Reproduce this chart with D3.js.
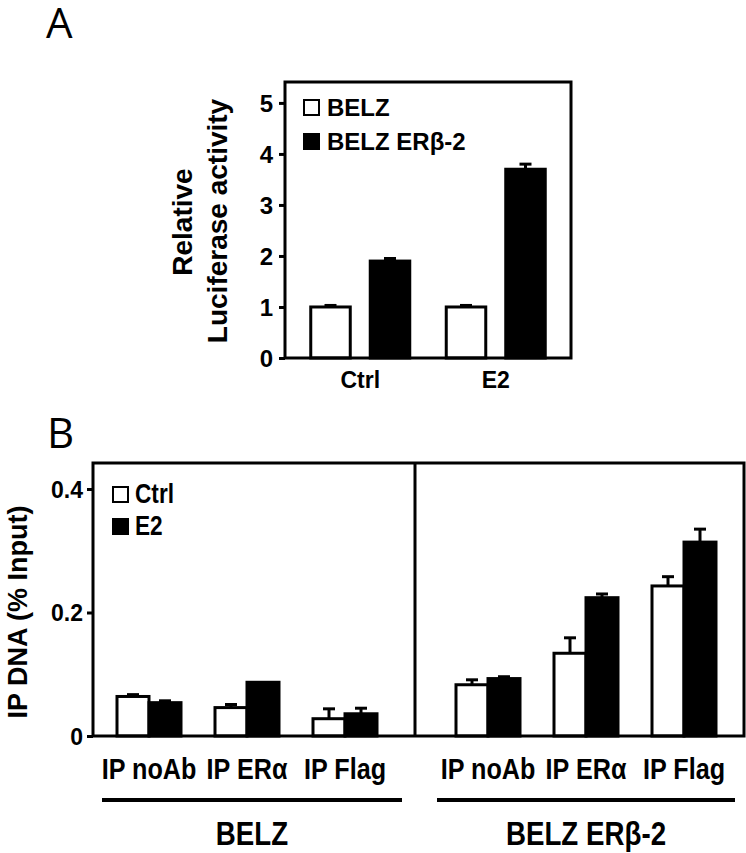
<!DOCTYPE html>
<html>
<head>
<meta charset="utf-8">
<script src="https://cdn.jsdelivr.net/npm/d3@7"></script>
<style>
  body { margin: 0; background: #fff; }
  svg { display: block; }
  text { font-family: "Liberation Sans", Arial, sans-serif; font-weight: bold; fill: #000; }
</style>
</head>
<body>
<svg id="chart" width="746" height="853"></svg>
<script>
// ---------- Panel A data ----------
const aGroups = ["Ctrl", "E2"];
const aSeries = ["BELZ", "BELZ ERβ-2"];
const aValues = [[1.0, 1.9], [1.0, 3.7]];      // [group][series]
const aErrors = [[0.03, 0.05], [0.03, 0.1]];
const aTicks = [0, 1, 2, 3, 4, 5];

// ---------- Panel B data ----------
const bSections = ["BELZ", "BELZ ERβ-2"];
const bAntibodies = ["IP noAb", "IP ERα", "IP Flag"];
const bSeries = ["Ctrl", "E2"];
const bValuesCtrl = [[0.064, 0.046, 0.028], [0.083, 0.134, 0.243]];
const bErrorsCtrl = [[0.003, 0.005, 0.016], [0.008, 0.025, 0.015]];
const bValuesE2   = [[0.054, 0.087, 0.036], [0.093, 0.224, 0.314]];
const bErrorsE2   = [[0.003, 0.0,   0.009], [0.003, 0.006, 0.021]];
const bTicks = [0, 0.2, 0.4];
const bTickLabels = ["0", "0.2", "0.4"];

const svg = d3.select("#chart");
const colors = ["#fff", "#000"];
const SW = 3;

function errorBar(g, x, yTop, yErr, cap) {
  g.append("line").attr("x1", x).attr("x2", x).attr("y1", yTop).attr("y2", yErr)
    .attr("stroke", "#000").attr("stroke-width", SW);
  g.append("line").attr("x1", x - cap / 2).attr("x2", x + cap / 2).attr("y1", yErr).attr("y2", yErr)
    .attr("stroke", "#000").attr("stroke-width", SW);
}
// condensed text helper
function ctext(g, x, y, str, size, anchor, sx) {
  return g.append("text").attr("transform", `translate(${x},${y}) scale(${sx || 0.84},1)`)
    .attr("text-anchor", anchor || "start").style("font-size", size + "px").text(str);
}

// ================= Panel A =================
{
  const L = 285, R = 571, T = 82, B = 358;
  const g = svg.append("g");
  const y = d3.scaleLinear().domain([0, 5.41]).range([B, T]);
  const x0 = d3.scaleBand().domain(aGroups).range([L + 7.5, R - 7.5]);
  const x1 = d3.scaleBand().domain(aSeries).range([0, 99]).paddingInner(0.336);
  const off = (x0.bandwidth() - 99) / 2;

  g.append("text").attr("x", 46).attr("y", 38).style("font-weight", "normal")
    .style("font-family", "'Open Sans', 'DejaVu Sans', sans-serif").style("font-size", "42px").text("A");

  aGroups.forEach((grp, gi) => {
    aSeries.forEach((s, si) => {
      const bx = x0(grp) + off + x1(s);
      const v = aValues[gi][si];
      errorBar(g, bx + x1.bandwidth() / 2, y(v), y(v + aErrors[gi][si]), 12);
      g.append("rect").attr("x", bx).attr("y", y(v)).attr("width", x1.bandwidth())
        .attr("height", y(0) - y(v)).attr("fill", colors[si]).attr("stroke", "#000").attr("stroke-width", SW);
    });
    g.append("text").attr("x", x0(grp) + x0.bandwidth() / 2).attr("y", 388)
      .attr("text-anchor", "middle").style("font-size", "23px").text(grp);
  });

  g.append("rect").attr("x", L).attr("y", T).attr("width", R - L).attr("height", B - T)
    .attr("fill", "none").attr("stroke", "#000").attr("stroke-width", SW);

  const ax = g.append("g").attr("transform", `translate(${L},0)`)
    .call(d3.axisLeft(y).tickValues(aTicks).tickSize(6).tickPadding(6).tickFormat(d3.format("d")));
  ax.select(".domain").remove();
  ax.selectAll(".tick line").attr("stroke", "#000").attr("stroke-width", SW);
  ax.selectAll(".tick text").style("font-size", "24px").style("font-family", "'Liberation Sans', Arial, sans-serif")
    .style("font-weight", "bold").attr("dy", "0.36em");

  g.append("text").attr("transform", `translate(192,222) rotate(-90)`).attr("text-anchor", "middle")
    .style("font-size", "28px").text("Relative");
  g.append("text").attr("transform", `translate(227,221) rotate(-90)`).attr("text-anchor", "middle")
    .style("font-size", "28px").text("Luciferase activity");

  aSeries.forEach((s, i) => {
    const ly = 100 + i * 34;
    g.append("rect").attr("x", 304).attr("y", ly).attr("width", 15).attr("height", 15)
      .attr("fill", colors[i]).attr("stroke", "#000").attr("stroke-width", 2);
    g.append("text").attr("x", 327).attr("y", ly + 16).style("font-size", "24px").text(s);
  });
}

// ================= Panel B =================
{
  const L = 93, R = 744, T = 463, B = 736, D = 415;
  const g = svg.append("g");
  const y = d3.scaleLinear().domain([0, 0.4]).range([B, 489]);
  const inner = d3.scaleBand().domain(bSeries).range([0, 64]);

  g.append("text").attr("x", 47).attr("y", 448).style("font-weight", "normal")
    .style("font-family", "'Open Sans', 'DejaVu Sans', sans-serif").style("font-size", "42px").text("B");

  const centerScales = [
    d3.scalePoint().domain(bAntibodies).range([149, 345]),
    d3.scalePoint().domain(bAntibodies).range([488, 684])
  ];
  const lineSpans = [[102, 402], [437, 735]];

  bSections.forEach((sname, si) => {
    const xc = centerScales[si];
    bAntibodies.forEach((ab, ai) => {
      const vals = [bValuesCtrl[si][ai], bValuesE2[si][ai]];
      const errs = [bErrorsCtrl[si][ai], bErrorsE2[si][ai]];
      bSeries.forEach((s, k) => {
        const bx = xc(ab) - 32 + inner(s);
        const v = vals[k];
        if (errs[k] > 0) errorBar(g, bx + inner.bandwidth() / 2, y(v), y(v + errs[k]), 12);
        g.append("rect").attr("x", bx).attr("y", y(v)).attr("width", inner.bandwidth())
          .attr("height", y(0) - y(v)).attr("fill", colors[k]).attr("stroke", "#000").attr("stroke-width", SW);
      });
      ctext(g, xc(ab), 779, ab, 30, "middle");
    });
    const [lx0, lx1] = lineSpans[si];
    g.append("line").attr("x1", lx0).attr("x2", lx1).attr("y1", 800).attr("y2", 800)
      .attr("stroke", "#000").attr("stroke-width", 4);
    ctext(g, (lx0 + lx1) / 2, 845, sname, 33, "middle");
  });

  g.append("rect").attr("x", L).attr("y", T).attr("width", R - L).attr("height", B - T)
    .attr("fill", "none").attr("stroke", "#000").attr("stroke-width", SW);
  g.append("line").attr("x1", D).attr("x2", D).attr("y1", T).attr("y2", B)
    .attr("stroke", "#000").attr("stroke-width", SW);

  const ax = g.append("g").attr("transform", `translate(${L},0)`)
    .call(d3.axisLeft(y).tickValues(bTicks).tickSize(6).tickPadding(4)
      .tickFormat((d, i) => bTickLabels[i]));
  ax.select(".domain").remove();
  ax.selectAll(".tick line").attr("stroke", "#000").attr("stroke-width", SW);
  ax.selectAll(".tick text").style("font-size", "23px").style("font-family", "'Liberation Sans', Arial, sans-serif")
    .style("font-weight", "bold").attr("dy", "0.36em");

  g.append("text").attr("transform", "translate(27,612) rotate(-90)").attr("text-anchor", "middle")
    .style("font-size", "27px").text("IP DNA (% Input)");

  bSeries.forEach((s, i) => {
    const ly = 487 + i * 32;
    g.append("rect").attr("x", 113).attr("y", ly).attr("width", 15).attr("height", 15)
      .attr("fill", colors[i]).attr("stroke", "#000").attr("stroke-width", 2);
    ctext(g, 135, ly + 16, s, 27, "start");
  });
}
</script>
</body>
</html>
